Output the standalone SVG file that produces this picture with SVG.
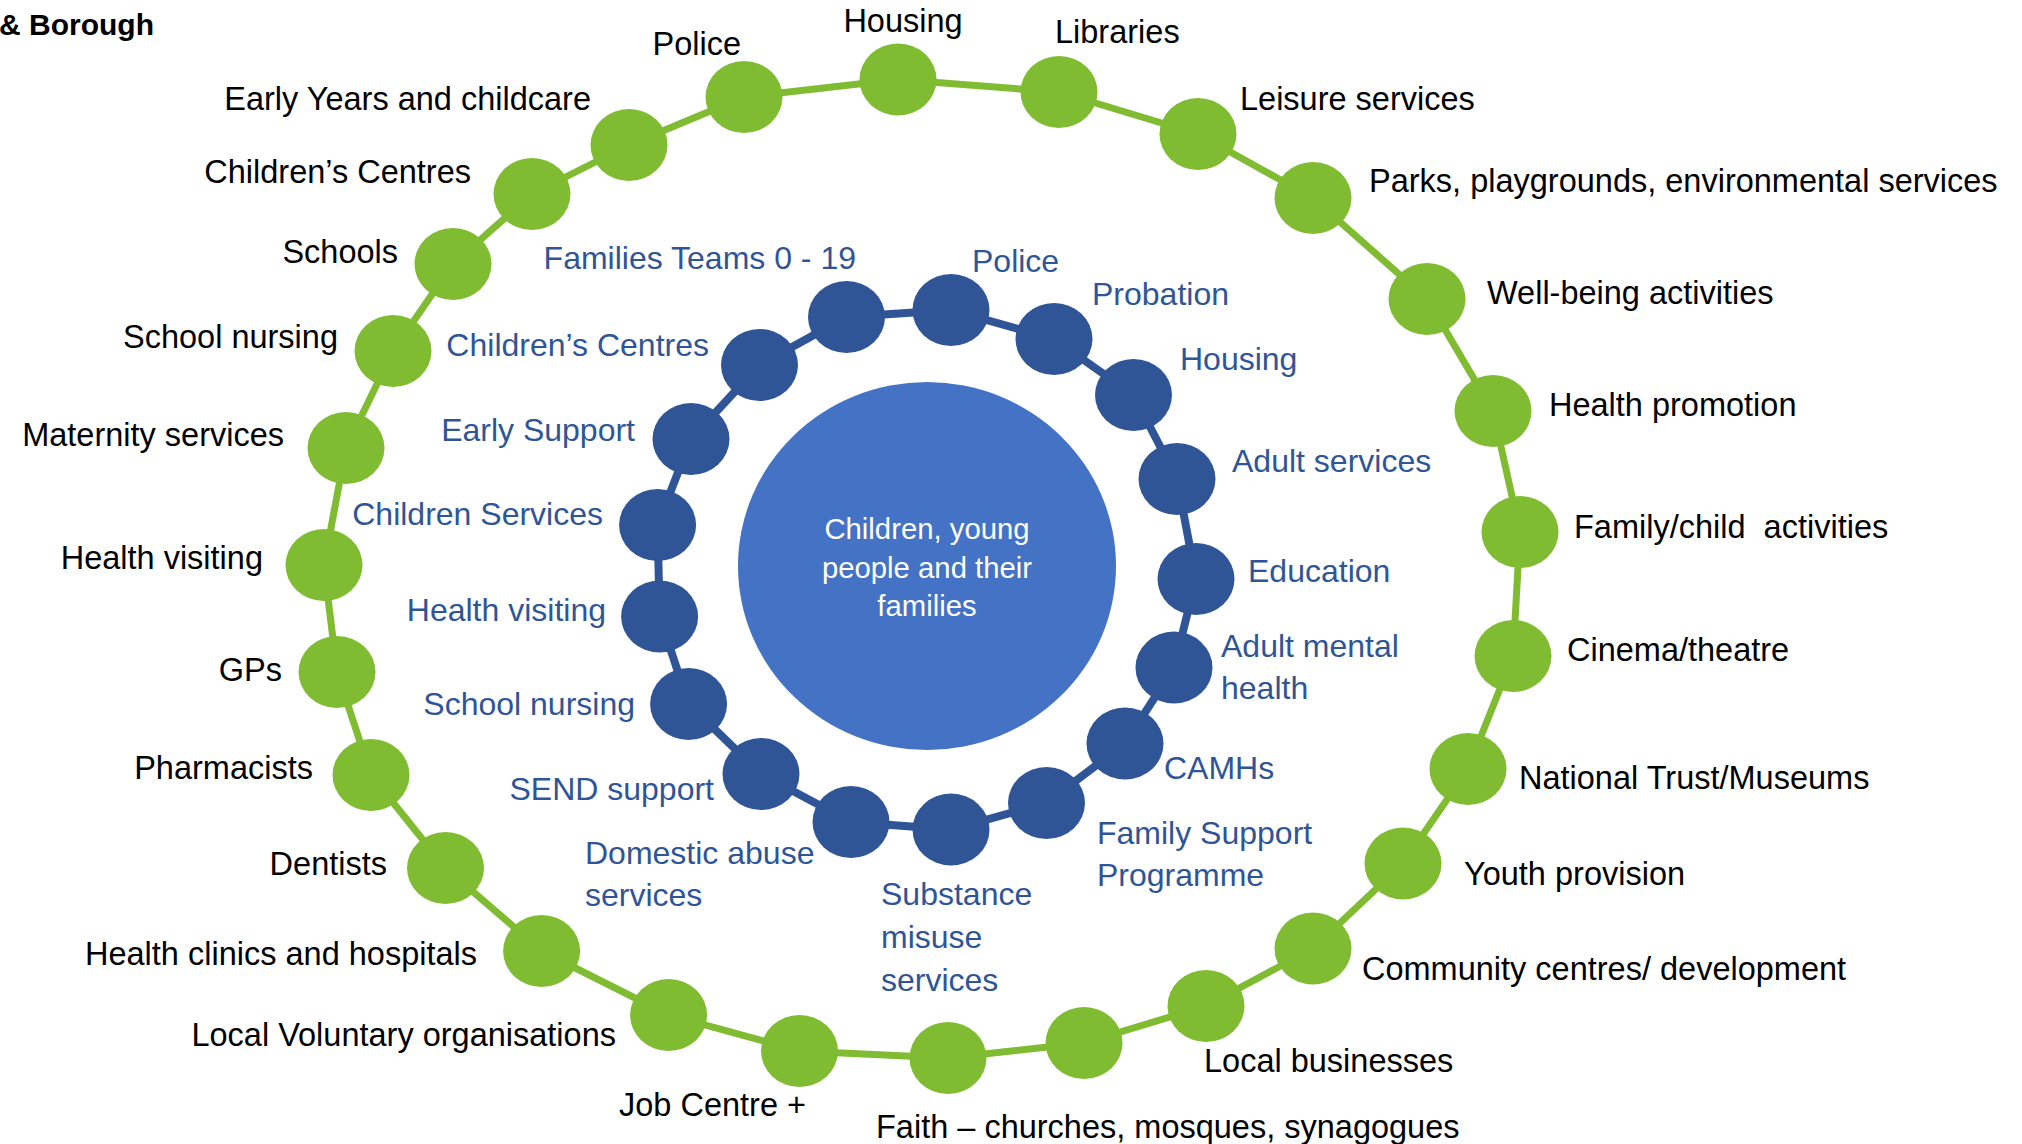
<svg xmlns="http://www.w3.org/2000/svg" width="2022" height="1144" viewBox="0 0 2022 1144">
<style>
text{font-family:"Liberation Sans",Arial,sans-serif;font-size:32.5px}
.g{fill:#80BC31}
.b{fill:#2F5597}
.lk{fill:#000}
.lb{fill:#2F5597;font-size:32px}
.e{text-anchor:end}
.m{text-anchor:middle}
.ct{fill:#fff;font-size:29.3px;text-anchor:middle}
</style>
<rect width="2022" height="1144" fill="#fff"/>
<text x="-1" y="35" style="font-weight:bold;font-size:30px">&amp; Borough</text>
<g id="connectors" fill="none" stroke-linejoin="round">
<path id="outer-ring" stroke="#80BC31" stroke-width="7" d="M744,97 L898,79.5 L1059,92 L1198,134 L1313,198 L1427,299 L1493,411 L1520,532 L1513,656 L1468,769 L1403,863.5 L1313,948.5 L1206,1006 L1084,1043 L948,1058 L799.5,1051 L668.6,1015 L541.6,951 L445.5,868 L371,775 L337,672 L324,565 L346,448 L393,351 L453,264 L532,194 L629,145 Z"/>
<path id="inner-ring" stroke="#2F5597" stroke-width="8" d="M846.5,317 L951,310 L1054,339 L1133.5,395 L1177,479 L1196,579 L1174,667.6 L1125,743.5 L1046.5,803 L951,829.6 L851,822 L761,774 L688.6,704 L659.6,616.5 L657.6,525 L691,439 L759.5,365 Z"/>
</g>
<g id="center">
<ellipse cx="927" cy="566" rx="189" ry="184" fill="#4472C4"/>
<text class="ct" x="927" y="539">Children, young</text>
<text class="ct" x="927" y="578">people and their</text>
<text class="ct" x="927" y="616">families</text>
</g>
<g id="o-police"><ellipse class="g" cx="744" cy="97" rx="38.5" ry="36"/><text class="lk e" x="741" y="55">Police</text></g>
<g id="o-housing"><ellipse class="g" cx="898" cy="79.5" rx="38.5" ry="36"/><text class="lk m" x="903" y="32">Housing</text></g>
<g id="o-libraries"><ellipse class="g" cx="1059" cy="92" rx="38.5" ry="36"/><text class="lk" x="1055" y="43">Libraries</text></g>
<g id="o-leisure"><ellipse class="g" cx="1198" cy="134" rx="38.5" ry="36"/><text class="lk" x="1240" y="110">Leisure services</text></g>
<g id="o-parks"><ellipse class="g" cx="1313" cy="198" rx="38.5" ry="36"/><text class="lk" x="1369" y="192">Parks, playgrounds, environmental services</text></g>
<g id="o-wellbeing"><ellipse class="g" cx="1427" cy="299" rx="38.5" ry="36"/><text class="lk" x="1487" y="304">Well-being activities</text></g>
<g id="o-healthpromo"><ellipse class="g" cx="1493" cy="411" rx="38.5" ry="36"/><text class="lk" x="1549" y="416">Health promotion</text></g>
<g id="o-family"><ellipse class="g" cx="1520" cy="532" rx="38.5" ry="36"/><text class="lk" x="1574" y="538" xml:space="preserve">Family/child  activities</text></g>
<g id="o-cinema"><ellipse class="g" cx="1513" cy="656" rx="38.5" ry="36"/><text class="lk" x="1567" y="661">Cinema/theatre</text></g>
<g id="o-trust"><ellipse class="g" cx="1468" cy="769" rx="38.5" ry="36"/><text class="lk" x="1519" y="789">National Trust/Museums</text></g>
<g id="o-youth"><ellipse class="g" cx="1403" cy="863.5" rx="38.5" ry="36"/><text class="lk" x="1464" y="885">Youth provision</text></g>
<g id="o-community"><ellipse class="g" cx="1313" cy="948.5" rx="38.5" ry="36"/><text class="lk" x="1362" y="980">Community centres/ development</text></g>
<g id="o-business"><ellipse class="g" cx="1206" cy="1006" rx="38.5" ry="36"/><text class="lk" x="1204" y="1072">Local businesses</text></g>
<g id="o-extra"><ellipse class="g" cx="1084" cy="1043" rx="38.5" ry="36"/></g>
<g id="o-faith"><ellipse class="g" cx="948" cy="1058" rx="38.5" ry="36"/><text class="lk" x="876" y="1138">Faith – churches, mosques, synagogues</text></g>
<g id="o-jobcentre"><ellipse class="g" cx="799.5" cy="1051" rx="38.5" ry="36"/><text class="lk e" x="806" y="1116">Job Centre +</text></g>
<g id="o-voluntary"><ellipse class="g" cx="668.6" cy="1015" rx="38.5" ry="36"/><text class="lk e" x="616" y="1046">Local Voluntary organisations</text></g>
<g id="o-clinics"><ellipse class="g" cx="541.6" cy="951" rx="38.5" ry="36"/><text class="lk e" x="477" y="965">Health clinics and hospitals</text></g>
<g id="o-dentists"><ellipse class="g" cx="445.5" cy="868" rx="38.5" ry="36"/><text class="lk e" x="387" y="875">Dentists</text></g>
<g id="o-pharmacists"><ellipse class="g" cx="371" cy="775" rx="38.5" ry="36"/><text class="lk e" x="313" y="779">Pharmacists</text></g>
<g id="o-gps"><ellipse class="g" cx="337" cy="672" rx="38.5" ry="36"/><text class="lk e" x="282" y="681">GPs</text></g>
<g id="o-healthvisiting"><ellipse class="g" cx="324" cy="565" rx="38.5" ry="36"/><text class="lk e" x="263" y="569">Health visiting</text></g>
<g id="o-maternity"><ellipse class="g" cx="346" cy="448" rx="38.5" ry="36"/><text class="lk e" x="284" y="446">Maternity services</text></g>
<g id="o-schoolnursing"><ellipse class="g" cx="393" cy="351" rx="38.5" ry="36"/><text class="lk e" x="338" y="348">School nursing</text></g>
<g id="o-schools"><ellipse class="g" cx="453" cy="264" rx="38.5" ry="36"/><text class="lk e" x="398" y="263">Schools</text></g>
<g id="o-childrens"><ellipse class="g" cx="532" cy="194" rx="38.5" ry="36"/><text class="lk e" x="471" y="183">Children’s Centres</text></g>
<g id="o-earlyyears"><ellipse class="g" cx="629" cy="145" rx="38.5" ry="36"/><text class="lk e" x="591" y="110">Early Years and childcare</text></g>
<g id="i-families"><ellipse class="b" cx="846.5" cy="317" rx="38.5" ry="36"/><text class="lb e" x="856" y="269">Families Teams 0 - 19</text></g>
<g id="i-police"><ellipse class="b" cx="951" cy="310" rx="38.5" ry="36"/><text class="lb" x="972" y="272">Police</text></g>
<g id="i-probation"><ellipse class="b" cx="1054" cy="339" rx="38.5" ry="36"/><text class="lb" x="1092" y="305">Probation</text></g>
<g id="i-housing"><ellipse class="b" cx="1133.5" cy="395" rx="38.5" ry="36"/><text class="lb" x="1180" y="370">Housing</text></g>
<g id="i-adult"><ellipse class="b" cx="1177" cy="479" rx="38.5" ry="36"/><text class="lb" x="1232" y="472">Adult services</text></g>
<g id="i-education"><ellipse class="b" cx="1196" cy="579" rx="38.5" ry="36"/><text class="lb" x="1248" y="582">Education</text></g>
<g id="i-mental"><ellipse class="b" cx="1174" cy="667.6" rx="38.5" ry="36"/><text class="lb" x="1221" y="657">Adult mental</text><text class="lb" x="1221" y="699">health</text></g>
<g id="i-camhs"><ellipse class="b" cx="1125" cy="743.5" rx="38.5" ry="36"/><text class="lb" x="1164" y="779">CAMHs</text></g>
<g id="i-fsp"><ellipse class="b" cx="1046.5" cy="803" rx="38.5" ry="36"/><text class="lb" x="1097" y="844">Family Support</text><text class="lb" x="1097" y="886">Programme</text></g>
<g id="i-substance"><ellipse class="b" cx="951" cy="829.6" rx="38.5" ry="36"/><text class="lb" x="881" y="905">Substance</text><text class="lb" x="881" y="948">misuse</text><text class="lb" x="881" y="991">services</text></g>
<g id="i-domestic"><ellipse class="b" cx="851" cy="822" rx="38.5" ry="36"/><text class="lb" x="585" y="864">Domestic abuse</text><text class="lb" x="585" y="906">services</text></g>
<g id="i-send"><ellipse class="b" cx="761" cy="774" rx="38.5" ry="36"/><text class="lb e" x="714" y="800">SEND support</text></g>
<g id="i-schoolnursing"><ellipse class="b" cx="688.6" cy="704" rx="38.5" ry="36"/><text class="lb e" x="635" y="715">School nursing</text></g>
<g id="i-healthvisiting"><ellipse class="b" cx="659.6" cy="616.5" rx="38.5" ry="36"/><text class="lb e" x="606" y="621">Health visiting</text></g>
<g id="i-childrenservices"><ellipse class="b" cx="657.6" cy="525" rx="38.5" ry="36"/><text class="lb e" x="603" y="525">Children Services</text></g>
<g id="i-earlysupport"><ellipse class="b" cx="691" cy="439" rx="38.5" ry="36"/><text class="lb e" x="635" y="441">Early Support</text></g>
<g id="i-childrens"><ellipse class="b" cx="759.5" cy="365" rx="38.5" ry="36"/><text class="lb e" x="709" y="356">Children’s Centres</text></g>
</svg>
